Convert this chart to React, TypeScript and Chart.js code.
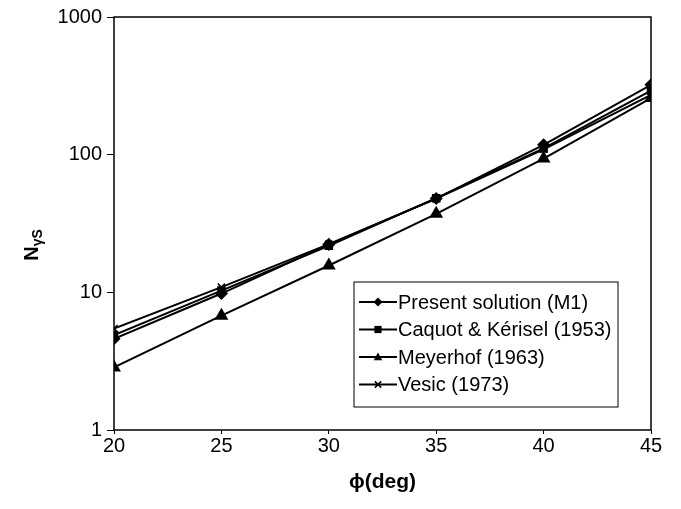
import React, { useEffect, useRef } from "react";
import { Chart, registerables } from "chart.js";

Chart.register(...registerables);

const phiDeg = [20, 25, 30, 35, 40, 45];
const presentM1 = [4.6, 9.8, 22.3, 48, 118, 322];
const caquotKerisel = [4.9, 10.3, 21.8, 48.3, 111, 292];
const meyerhof = [2.85, 6.77, 15.67, 37.15, 93.7, 258];
const vesic = [5.45, 10.9, 22.4, 48.0, 109.4, 272];
const yTicks = [1, 10, 100, 1000];
const xTicks = [20, 25, 30, 35, 40, 45];
const seriesNames = [
  "Present solution (M1)",
  "Caquot & Kérisel (1953)",
  "Meyerhof (1963)",
  "Vesic (1973)",
];

const FONT = 'Arial, "Liberation Sans", sans-serif';

function drawMarker(ctx: CanvasRenderingContext2D, style: string, x: number, y: number, r: number) {
  ctx.beginPath();
  if (style === "rectRot") {
    ctx.moveTo(x, y - r);
    ctx.lineTo(x + r, y);
    ctx.lineTo(x, y + r);
    ctx.lineTo(x - r, y);
    ctx.closePath();
    ctx.fill();
  } else if (style === "rect") {
    ctx.rect(x - r * 0.8, y - r * 0.8, r * 1.6, r * 1.6);
    ctx.fill();
  } else if (style === "triangle") {
    ctx.moveTo(x, y - r);
    ctx.lineTo(x + r * 0.95, y + r * 0.7);
    ctx.lineTo(x - r * 0.95, y + r * 0.7);
    ctx.closePath();
    ctx.fill();
  } else {
    ctx.lineWidth = 1.5;
    ctx.moveTo(x - r * 0.7, y - r * 0.7);
    ctx.lineTo(x + r * 0.7, y + r * 0.7);
    ctx.moveTo(x + r * 0.7, y - r * 0.7);
    ctx.lineTo(x - r * 0.7, y + r * 0.7);
    ctx.stroke();
  }
}

export default function App() {
  const ref = useRef<HTMLCanvasElement | null>(null);

  useEffect(() => {
    if (!ref.current) return;
    const styles: any[] = [
      { pointStyle: "rectRot", radius: 5.5 },
      { pointStyle: "rect", radius: 5 },
      { pointStyle: "triangle", radius: 6.5 },
      { pointStyle: "crossRot", radius: 5 },
    ];
    const series = [presentM1, caquotKerisel, meyerhof, vesic];

    const framePlugin = {
      id: "frameAndLegend",
      afterDraw(chart: any) {
        const ctx = chart.ctx as CanvasRenderingContext2D;
        const a = chart.chartArea;
        ctx.save();
        ctx.strokeStyle = "#000";
        ctx.lineWidth = 1.5;
        ctx.strokeRect(a.left, a.top, a.right - a.left, a.bottom - a.top);

        // y title with subscript
        ctx.save();
        ctx.translate(31, 245);
        ctx.rotate(-Math.PI / 2);
        ctx.fillStyle = "#000";
        ctx.textBaseline = "alphabetic";
        ctx.font = `bold 20px ${FONT}`;
        const wN = ctx.measureText("N").width;
        ctx.font = `bold 14px ${FONT}`;
        const wS = ctx.measureText("γS").width;
        const total = wN + wS;
        ctx.font = `bold 20px ${FONT}`;
        ctx.fillText("N", -total / 2, 7);
        ctx.font = `bold 14px ${FONT}`;
        ctx.fillText("γS", -total / 2 + wN, 11);
        ctx.restore();

        // legend
        const lx = 354, ly = 282, lw = 264, lh = 125;
        ctx.fillStyle = "#fff";
        ctx.fillRect(lx, ly, lw, lh);
        ctx.strokeStyle = "#000";
        ctx.lineWidth = 1;
        ctx.strokeRect(lx, ly, lw, lh);
        chart.data.datasets.forEach((ds: any, i: number) => {
          const y = ly + 20 + i * 27.5;
          ctx.strokeStyle = "#000";
          ctx.lineWidth = 2;
          ctx.beginPath();
          ctx.moveTo(lx + 5, y);
          ctx.lineTo(lx + 43, y);
          ctx.stroke();
          ctx.fillStyle = "#000";
          drawMarker(ctx, ds.pointStyle, lx + 24, y, 4.5);
          ctx.fillStyle = "#000";
          ctx.font = `20px ${FONT}`;
          ctx.textBaseline = "middle";
          ctx.textAlign = "left";
          ctx.fillText(ds.label, lx + 44, y + 1);
        });
        ctx.restore();
      },
    };

    const chart = new Chart(ref.current, {
      type: "line",
      data: {
        datasets: series.map((vals, i) => ({
          label: seriesNames[i],
          data: phiDeg.map((x, j) => ({ x, y: vals[j] })),
          borderColor: "#000",
          backgroundColor: "#000",
          borderWidth: 2,
          pointStyle: styles[i].pointStyle,
          pointRadius: styles[i].radius,
          pointBorderWidth: 1.5,
          pointBackgroundColor: "#000",
          pointBorderColor: "#000",
          tension: 0,
        })),
      },
      options: {
        animation: false,
        responsive: false,
        devicePixelRatio: 1,
        layout: { padding: { left: 0, right: 30, top: 17, bottom: 14 } },
        plugins: { legend: { display: false }, tooltip: { enabled: false } },
        scales: {
          x: {
            type: "linear",
            min: 20,
            max: 45,
            afterBuildTicks(scale: any) {
              scale.ticks = xTicks.map((v) => ({ value: v }));
            },
            afterFit(scale: any) {
              scale.height = 65;
            },
            grid: { drawOnChartArea: false, drawTicks: true, tickLength: 4, color: "#000" },
            border: { display: false },
            ticks: {
              color: "#000",
              font: { family: FONT, size: 20 },
              padding: 0,
              maxRotation: 0,
            },
            title: {
              display: true,
              text: "ϕ(deg)",
              color: "#000",
              font: { family: FONT, size: 21, weight: "bold" },
              padding: { top: 0, bottom: 0 },
            },
          },
          y: {
            type: "logarithmic",
            min: 1,
            max: 1000,
            afterBuildTicks(scale: any) {
              scale.ticks = yTicks.map((v) => ({ value: v }));
            },
            afterFit(scale: any) {
              scale.width = 114;
            },
            grid: { drawOnChartArea: false, drawTicks: true, tickLength: 7, color: "#000" },
            border: { display: false },
            ticks: {
              color: "#000",
              font: { family: FONT, size: 20 },
              padding: 5,
              callback: (v: any) => String(v),
            },
          },
        },
      },
      plugins: [framePlugin],
    });
    return () => chart.destroy();
  }, []);

  return (
    <div style={{ position: "fixed", left: 0, top: 0, width: 681, height: 509, background: "#fff" }}>
      <canvas ref={ref} width={681} height={509} style={{ width: 681, height: 509, display: "block" }} />
    </div>
  );
}
